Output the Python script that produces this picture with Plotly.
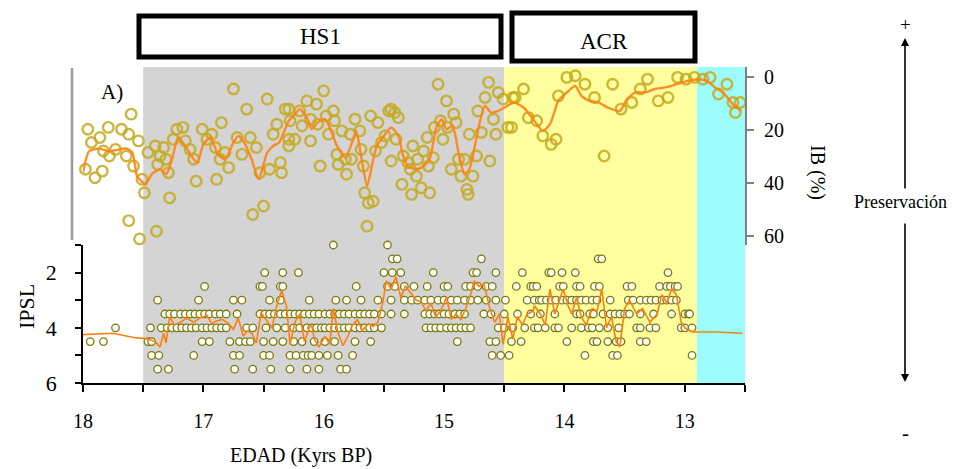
import plotly.graph_objects as go

# ---------------- DATA ----------------
ib_age = [18.01, 17.96, 17.98, 17.93, 17.90, 17.86, 17.84, 17.79, 17.83, 17.78, 17.73, 17.68, 17.62, 17.60,
          17.64, 17.58, 17.54, 17.51, 17.49, 17.62, 17.53, 17.39, 17.46, 17.40, 17.36, 17.33, 17.38, 17.29,
          17.31, 17.28, 17.25, 17.22, 17.17, 17.15, 17.11, 17.08, 17.06, 17.01, 16.97, 16.93, 16.89, 16.90,
          16.85, 16.86, 16.82, 16.79, 16.75, 16.72, 16.68, 16.64, 16.61, 16.59, 16.56, 16.53, 16.50, 16.47,
          16.45, 16.42, 16.39, 16.36, 16.35, 16.32, 16.29,
          16.29, 16.28, 16.29, 16.24, 16.20, 16.18, 16.14, 16.11, 16.11, 16.06, 16.05, 16.00, 16.03, 15.98,
          15.96, 15.92, 15.91, 15.89, 15.88, 15.85, 15.82, 15.81, 15.78, 15.77, 15.74, 15.70, 15.69, 15.67,
          15.66, 15.63, 15.59, 15.64, 15.61, 15.57, 15.55, 15.52, 15.49, 15.46, 15.44, 15.41, 15.38, 15.44,
          15.40, 15.35, 15.34, 15.30, 15.28, 15.27, 15.26, 15.23, 15.22, 15.19, 15.17, 15.14, 15.13, 15.12,
          15.09, 15.08, 15.05, 15.03, 15.01, 14.98, 14.97, 14.94, 14.92, 14.90, 14.88, 14.86, 14.83, 14.81,
          14.80, 14.79, 14.76, 14.73, 14.72, 14.69, 14.66, 14.63, 14.62, 14.59, 14.57, 14.55, 14.51, 14.47,
          14.43,
          14.44, 14.41, 14.34, 14.30, 14.23, 14.18, 14.11, 14.07, 14.05, 13.98, 13.91, 13.83, 13.75, 13.67,
          13.60, 13.53, 13.44, 13.37, 13.31, 13.22, 13.14, 13.06, 12.99, 12.92, 12.85, 12.79, 12.72, 12.65,
          12.60, 12.58, 12.54]
ib_val = [41.8, 19.7, 34.8, 24.7, 38.0, 22.8, 35.5, 19.0, 27.9, 29.8, 27.3, 19.7, 21.6, 14.0,
          29.8, 33.6, 24.1, 38.6, 43.7, 54.2, 61.1, 58.2, 28.5, 26.0, 29.8, 26.6, 33.0, 36.1,
          31.0, 45.6, 23.5, 19.7, 19.0, 24.1, 27.3, 31.0, 39.3, 19.7, 23.5, 21.6, 38.6, 26.6,
          17.2, 31.0, 28.5, 34.2, 4.5, 22.8, 29.2, 12.1, 22.8, 51.9, 26.6, 36.1, 48.7, 8.3,
          34.8, 21.6, 17.8, 32.3, 36.1, 12.1, 23.5,
          12.1, 16.5, 26.0, 23.5, 12.8, 18.4, 9.0, 15.9, 24.1, 10.2, 17.8, 5.2, 33.6, 14.7,
          21.6, 12.8, 16.5, 29.2, 33.0, 20.3, 31.0, 36.7, 21.6, 31.0, 15.9, 20.3, 27.3, 33.6,
          43.7, 47.5, 46.9, 56.3, 14.7, 27.9, 17.2, 24.7, 22.2, 12.8, 12.1, 13.4, 15.3, 31.7,
          23.5, 40.5, 29.8, 32.3, 34.8, 44.3, 26.0, 37.4, 31.0, 41.8, 27.9, 22.8, 33.6, 43.7,
          30.4, 19.0, 2.7, 16.5, 23.5, 9.0, 19.0, 34.8, 14.0, 17.2, 31.0, 37.4, 31.0, 42.4,
          44.3, 21.6, 37.4, 29.8, 12.8, 20.9, 7.7, 2.0, 31.7, 15.9, 21.6, 5.8, 8.3, 19.0,
          7.7,
          19.0, 7.7, 4.5, 15.3, 16.5, 22.2, 25.4, 23.5, 7.1, 0.1, -0.5, 2.7, 7.7, 29.8,
          2.7, 12.1, 9.6, 4.5, 0.8, 9.0, 7.7, 0.1, 0.8, 0.1, 0.8, 0.1, 6.4, 2.7,
          9.6, 13.4, 9.6]

ib_line_age = [18.00, 17.95, 17.87, 17.78, 17.64, 17.59, 17.55, 17.48, 17.43, 17.36, 17.31, 17.26, 17.21,
               17.15, 17.09, 17.05, 17.00, 16.94, 16.88, 16.82, 16.75, 16.71, 16.66, 16.60, 16.54, 16.47,
               16.42, 16.37, 16.29, 16.25, 16.20, 16.14, 16.10, 16.05, 15.99, 15.95, 15.89, 15.82, 15.77,
               15.73, 15.69, 15.64, 15.60, 15.56, 15.51, 15.44, 15.38, 15.34, 15.30, 15.23, 15.17, 15.12,
               15.06, 15.02, 14.98, 14.93, 14.88, 14.83, 14.79, 14.75, 14.71, 14.66, 14.61, 14.55, 14.50,
               14.42, 14.34, 14.26, 14.18, 14.12, 14.05, 13.98, 13.91, 13.86, 13.79, 13.72, 13.64, 13.54,
               13.48, 13.41, 13.33, 13.25, 13.16, 13.07, 12.97, 12.89, 12.82, 12.75, 12.67, 12.59, 12.53]
ib_line_val = [36.0, 28.0, 27.0, 28.0, 27.0, 28.5, 37.4, 40.5, 36.7, 34.8, 36.7, 31.0, 22.8,
               26.0, 30.4, 32.3, 25.4, 22.8, 29.2, 31.0, 24.7, 22.2, 24.7, 31.0, 38.6, 28.5,
               26.0, 24.7, 16.5, 14.7, 12.1, 15.3, 19.7, 17.2, 15.9, 19.0, 26.0, 30.4, 25.4,
               20.3, 29.8, 41.2, 33.6, 26.0, 22.8, 19.0, 22.2, 29.8, 33.6, 34.8, 33.6, 31.0,
               18.4, 15.9, 19.7, 18.4, 28.5, 36.7, 34.8, 27.3, 18.4, 10.8, 13.4, 12.8, 11.5,
               9.6, 11.5, 15.9, 20.3, 17.8, 8.9, 5.8, 3.3, 7.1, 9.0, 9.6, 11.5, 12.8,
               8.3, 5.8, 5.8, 4.5, 3.9, 2.7, 1.4, 0.8, 1.4, 3.9, 6.4, 10.8, 12.8]

ipsl_1_0 = [15.92, 15.47]
ipsl_1_5 = [15.43, 15.39, 14.69, 13.72, 13.69]
ipsl_2_0 = [16.49, 16.34, 16.21, 15.50, 15.43, 15.36, 15.09, 14.76, 14.73, 14.57, 14.35,
            14.13, 14.11, 14.02, 13.91, 13.14]
ipsl_2_5 = [16.99, 16.53, 16.51, 16.36, 16.34, 15.73, 15.47, 15.41, 15.33, 15.25, 15.14, 15.00, 14.97,
            14.82, 14.78, 14.72, 14.65, 14.60, 14.40, 14.28, 14.26, 14.23, 14.04, 14.01, 13.90, 13.87,
            13.75, 13.71, 13.48, 13.44, 13.21, 13.15, 13.12, 13.08, 13.06]
ipsl_3_0 = [17.38, 17.04, 16.75, 16.68, 16.45, 16.36, 16.12, 15.90, 15.81, 15.69, 15.55, 15.44, 15.33,
            15.27, 15.22, 15.16, 15.11, 15.05, 15.00, 14.94, 14.89, 14.83, 14.78, 14.72, 14.65, 14.57,
            14.49, 14.31, 14.25, 14.21, 14.19, 14.15, 14.11, 14.07, 14.02, 13.98, 13.94, 13.90, 13.86,
            13.82, 13.77, 13.73, 13.62, 13.47, 13.43, 13.37, 13.32, 13.28, 13.24, 13.19, 13.15, 13.11, 13.07]
ipsl_3_5 = [17.32, 17.28, 17.24, 17.19, 17.15, 17.11, 17.07, 17.03, 16.99, 16.95, 16.90, 16.86, 16.81,
            16.72, 16.53, 16.49, 16.45, 16.41, 16.36, 16.32, 16.28, 16.24, 16.20, 16.16, 16.12, 16.08,
            16.04, 15.99, 15.95, 15.91, 15.87, 15.83, 15.79, 15.74, 15.70, 15.66, 15.62, 15.58, 15.52,
            15.44, 15.33, 15.16, 15.12, 15.08, 15.04, 15.00, 14.96, 14.91, 14.87, 14.83, 14.67, 14.61,
            14.50, 14.39, 14.28, 14.20, 14.08, 13.90, 13.87, 13.79, 13.76, 13.68, 13.62, 13.58, 13.54,
            13.50, 13.46, 13.37, 13.26, 13.11, 13.00, 12.97, 12.96]
ipsl_4_0 = [17.73, 17.44, 17.35, 17.30, 17.26, 17.22, 17.18, 17.14, 17.10, 17.06, 17.01, 16.97, 16.93,
            16.89, 16.85, 16.81, 16.64, 16.59, 16.48, 16.39, 16.32, 16.25, 16.20, 16.14, 16.10, 16.06,
            16.02, 15.99, 15.95, 15.91, 15.87, 15.83, 15.79, 15.74, 15.70, 15.66, 15.62, 15.58, 15.52,
            15.15, 15.11, 15.07, 15.03, 14.98, 14.94, 14.90, 14.86, 14.82, 14.78, 14.55, 14.50, 14.43,
            14.33, 14.25, 14.22, 14.16, 14.08, 14.05, 13.94, 13.86, 13.80, 13.77, 13.71, 13.64, 13.55,
            13.40, 13.37, 13.29, 13.24, 13.03, 13.00, 12.94]
ipsl_4_5 = [17.94, 17.83, 17.46, 17.43, 17.01, 16.95, 16.78, 16.70, 16.65, 16.61, 16.50, 16.42, 16.34,
            16.25, 16.18, 16.08, 15.99, 15.91, 15.74, 15.61, 14.89, 14.62, 14.57, 14.44, 14.36, 13.98,
            13.76, 13.73, 13.64, 13.57, 13.53, 13.37, 13.32]
ipsl_5_0 = [17.43, 17.37, 17.08, 16.75, 16.70, 16.50, 16.45, 16.28, 16.23, 16.17, 16.13, 16.10, 16.04,
            15.97, 15.88, 15.76, 14.60, 14.53, 14.46, 13.83, 13.60, 13.56, 12.94]
ipsl_5_5 = [17.38, 17.29, 16.74, 16.59, 16.44, 16.28, 16.14, 16.04, 15.86, 15.81]

ipsl_levels = [1.0, 1.5, 2.0, 2.5, 3.0, 3.5, 4.0, 4.5, 5.0, 5.5]
ipsl_groups = [ipsl_1_0, ipsl_1_5, ipsl_2_0, ipsl_2_5, ipsl_3_0, ipsl_3_5, ipsl_4_0, ipsl_4_5, ipsl_5_0, ipsl_5_5]

ipsl_line_age = [18.02, 17.75, 17.58, 17.47, 17.40, 17.36, 17.33, 17.31, 17.28, 17.24, 17.19, 17.14, 17.08,
                 17.03, 16.97, 16.93, 16.89, 16.84, 16.79, 16.75, 16.71, 16.67, 16.63, 16.59, 16.56, 16.52,
                 16.48, 16.43, 16.39, 16.35, 16.31, 16.28, 16.24, 16.20, 16.16, 16.12, 16.10, 16.08, 16.04,
                 15.99, 15.95, 15.92, 15.88, 15.84, 15.80, 15.76, 15.72, 15.68, 15.63, 15.59, 15.55, 15.51,
                 15.48, 15.44, 15.40, 15.36, 15.32, 15.27, 15.23, 15.19, 15.15, 15.11, 15.07, 15.03, 14.98,
                 14.94, 14.90, 14.86, 14.82, 14.78, 14.75, 14.71, 14.67, 14.62, 14.58, 14.54, 14.51, 14.47,
                 14.43, 14.39, 14.35, 14.31, 14.26, 14.25, 14.20, 14.16, 14.12, 14.08, 14.04, 14.01, 13.97,
                 13.94, 13.90, 13.86, 13.82, 13.77, 13.73, 13.69, 13.65, 13.61, 13.57, 13.54, 13.50, 13.46,
                 13.40, 13.35, 13.29, 13.23, 13.19, 13.15, 13.11, 13.07, 13.03, 13.00, 12.96, 12.93, 12.74,
                 12.52]
ipsl_line_val = [4.25, 4.20, 4.35, 4.40, 4.50, 4.70, 4.20, 4.55, 3.60, 3.90, 3.80, 3.65, 3.80,
                 3.65, 3.55, 3.85, 3.75, 3.70, 3.85, 4.05, 3.65, 4.30, 4.10, 4.25, 4.55, 3.45,
                 3.70, 4.00, 3.20, 2.65, 3.20, 4.60, 3.80, 3.50, 4.50, 4.00, 3.90, 4.40, 4.70,
                 4.30, 4.60, 3.30, 4.20, 4.65, 4.30, 3.90, 3.70, 4.10, 3.85, 3.95, 3.80, 3.10,
                 2.30, 2.60, 2.15, 2.90, 2.50, 2.80, 3.00, 3.05, 3.40, 3.10, 3.60, 3.40, 2.90,
                 3.70, 3.50, 3.70, 3.30, 2.80, 2.30, 2.50, 2.40, 3.30, 3.80, 3.50, 4.60, 3.60,
                 4.40, 3.60, 3.90, 3.50, 3.40, 3.20, 3.50, 3.90, 2.60, 3.50, 3.00, 2.60, 3.20,
                 3.50, 2.90, 3.60, 3.90, 3.30, 3.40, 2.60, 4.00, 3.60, 4.50, 4.70, 3.30, 3.00,
                 3.50, 3.30, 3.80, 3.50, 2.80, 3.10, 2.60, 2.80, 3.80, 4.00, 4.10, 4.15, 4.15,
                 4.20]

x_tick_vals = [18, 17, 16, 15, 14, 13]
ipsl_tick_vals = [2, 4, 6]
ib_tick_vals = [0, 20, 40, 60]

hs1_span = (17.5, 14.5)
acr_span = (14.5, 12.9)
yd_span = (12.9, 12.5)

# ---------------- FIGURE ----------------
# The page body has an 8 px margin, so the figure is drawn 8 px in from the window's corner.
OFF = 8
W, H = 963 - OFF, 469 - OFF
FONT = "Liberation Serif"


def px(x):
    return (x - OFF) / W


def py(y):
    return 1 - (y - OFF) / H


fig = go.Figure()

bx, by = [], []
for lvl, ages in zip(ipsl_levels, ipsl_groups):
    for a in ages:
        bx.append(a)
        by.append(lvl)

fig.add_trace(go.Scatter(x=bx, y=by, mode="markers", xaxis="x", yaxis="y",
                         marker=dict(symbol="circle", size=7.5, color="#fffff2",
                                     line=dict(color="#7a7a14", width=1.3)),
                         cliponaxis=False, hoverinfo="skip"))
fig.add_trace(go.Scatter(x=ipsl_line_age, y=ipsl_line_val, mode="lines", xaxis="x", yaxis="y",
                         line=dict(color="#ff7f0e", width=1.6), hoverinfo="skip"))

fig.add_trace(go.Scatter(x=ib_age, y=ib_val, mode="markers", xaxis="x", yaxis="y2",
                         marker=dict(symbol="circle-open", size=10.5,
                                     color="rgba(196,170,30,0.85)",
                                     line=dict(color="rgba(196,170,30,0.85)", width=2.4)),
                         cliponaxis=False, hoverinfo="skip"))
fig.add_trace(go.Scatter(x=ib_line_age, y=ib_line_val, mode="lines", xaxis="x", yaxis="y2",
                         line=dict(color="rgba(255,130,20,0.9)", width=2.4, shape="spline", smoothing=0.6),
                         hoverinfo="skip"))

shapes = []
for span, col in [(hs1_span, "#d4d4d4"), (acr_span, "#ffffa0"), (yd_span, "#9cfcfc")]:
    shapes.append(dict(type="rect", xref="x", yref="paper", x0=span[0], x1=span[1],
                       y0=py(383), y1=py(67), fillcolor=col, line=dict(width=0), layer="below"))
shapes.append(dict(type="line", xref="paper", yref="paper", x0=px(72), x1=px(72), y0=py(240), y1=py(68),
                   line=dict(color="#9a9a9a", width=2.5)))
shapes.append(dict(type="rect", xref="paper", yref="paper", x0=px(139), x1=px(501), y0=py(57), y1=py(16),
                   line=dict(color="black", width=5), fillcolor="white"))
shapes.append(dict(type="rect", xref="paper", yref="paper", x0=px(512), x1=px(695), y0=py(61), y1=py(13),
                   line=dict(color="black", width=5), fillcolor="white"))


def ann(text, x, y, size, angle=0):
    return dict(text=text, x=px(x), y=py(y), xref="paper", yref="paper", showarrow=False,
                xanchor="center", yanchor="middle", textangle=angle,
                font=dict(size=size, family=FONT, color="black"))


annotations = [
    ann("HS1", 320, 37, 23),
    ann("ACR", 604, 41, 23),
    ann("A)", 112, 92, 21),
    ann("IB (%)", 818, 172, 20, 90),
    ann("IPSL", 26, 307, 22, -90),
    ann("EDAD (Kyrs BP)", 301, 455, 20),
    ann("+", 905, 24, 19),
    ann("-", 905, 433, 21),
    ann("Preservación", 900, 202, 18),
    dict(text="", x=px(905), y=py(38), xref="paper", yref="paper", showarrow=True,
         ax=0, ay=152, arrowhead=2, arrowsize=1, arrowwidth=1.6, arrowcolor="black"),
    dict(text="", x=px(905), y=py(382), xref="paper", yref="paper", showarrow=True,
         ax=0, ay=-160, arrowhead=2, arrowsize=1, arrowwidth=1.6, arrowcolor="black"),
]

fig.update_layout(
    width=W, height=H,
    margin=dict(l=0, r=0, t=0, b=0, autoexpand=False),
    paper_bgcolor="white", plot_bgcolor="rgba(0,0,0,0)",
    showlegend=False,
    font=dict(family=FONT, color="black", size=20),
    shapes=shapes, annotations=annotations,
    xaxis=dict(domain=[px(83), px(745)], range=[18, 12.5], anchor="y",
               tickmode="array", tickvals=x_tick_vals, ticks="outside", ticklen=7, tickwidth=1.5,
               tickcolor="black", showline=True, linecolor="black", linewidth=1.5,
               showgrid=False, zeroline=False, ticklabelstandoff=12, automargin=False,
               tickfont=dict(size=20, family=FONT),
               minor=dict(tickmode="linear", tick0=0, dtick=0.5, ticks="outside", ticklen=7,
                          tickwidth=1.5, tickcolor="black", showgrid=False)),
    yaxis=dict(domain=[py(383), py(245)], range=[6, 1], anchor="x",
               tickmode="array", tickvals=ipsl_tick_vals, ticks="outside", ticklen=6, tickwidth=1.5,
               tickcolor="black", showline=True, linecolor="black", linewidth=1.5,
               showgrid=False, zeroline=False, ticklabelstandoff=14, automargin=False,
               tickfont=dict(size=22, family=FONT),
               minor=dict(tickmode="linear", tick0=0, dtick=1, ticks="outside", ticklen=6,
                          tickwidth=1.5, tickcolor="black", showgrid=False)),
    yaxis2=dict(domain=[py(245), py(67)], range=[63.4, -3.8], anchor="x", side="right",
                tickmode="array", tickvals=ib_tick_vals, ticks="outside", ticklen=7, tickwidth=1.5,
                tickcolor="#808080", showline=True, linecolor="#808080", linewidth=2,
                showgrid=False, zeroline=False, ticklabelstandoff=6, automargin=False,
                tickfont=dict(size=20, family=FONT)),
)

fig.write_html("out.html")
